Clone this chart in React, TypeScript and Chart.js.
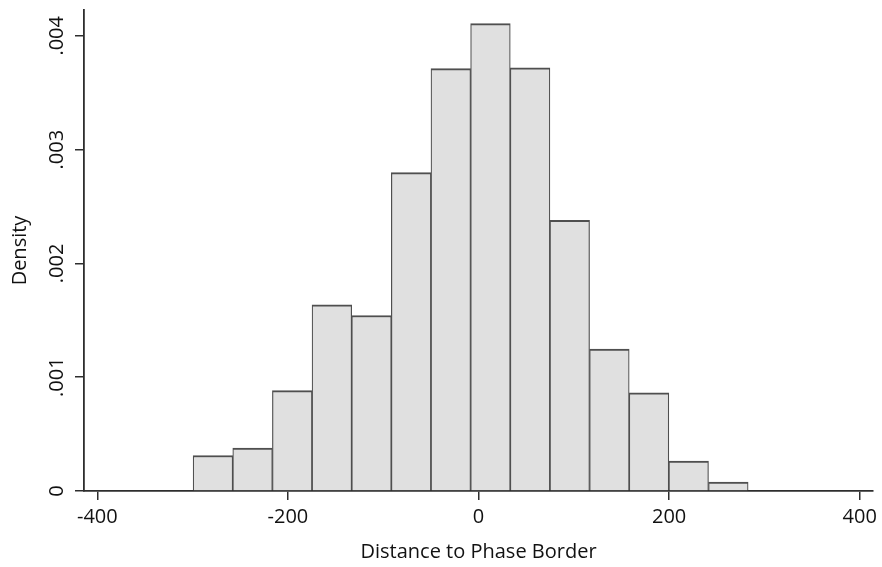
import React, { useEffect, useRef } from "react";
import { Chart, registerables } from "chart.js";

Chart.register(...registerables);

// Histogram bins (centers, uniform width) and density values
const binCenters = [-278.7, -237.1, -195.5, -153.9, -112.3, -70.7, -29.1, 12.5, 54.1, 95.7, 137.3, 178.9, 220.5, 262.1];
const densities = [0.000312, 0.000377, 0.000882, 0.001635, 0.001542, 0.002798, 0.003712, 0.004107, 0.003719, 0.002378, 0.001247, 0.000862, 0.000263, 0.000079];

const xTickValues = [-400, -200, 0, 200, 400];
const xTickLabels = ["-400", "-200", "0", "200", "400"];
const yTickValues = [0, 0.001, 0.002, 0.003, 0.004];
const yTickLabels = ["0", ".001", ".002", ".003", ".004"];

const xTitle = "Distance to Phase Border";
const yTitle = "Density";

const FONT = "'Open Sans', 'DejaVu Sans', sans-serif";
const AXIS = "#2e2e2e";
const TEXT = "#111111";

export default function App() {
  const ref = useRef<HTMLCanvasElement | null>(null);

  useEffect(() => {
    if (!ref.current) return;
    const chart = new Chart(ref.current, {
      type: "bar",
      data: {
        datasets: [
          {
            data: binCenters.map((x, i) => ({ x, y: densities[i] })),
            backgroundColor: "#e0e0e0",
            borderColor: "#4f4f4f",
            borderWidth: { top: 2, left: 1.2, right: 1.2, bottom: 0 },
            borderSkipped: "start",
            barPercentage: 1,
            categoryPercentage: 1,
          },
        ],
      },
      options: {
        animation: false,
        responsive: false,
        maintainAspectRatio: false,
        layout: { padding: { top: 9, right: 7, left: 0, bottom: 0 } },
        plugins: { legend: { display: false }, tooltip: { enabled: false } },
        scales: {
          x: {
            type: "linear",
            offset: false,
            min: -414,
            max: 414,
            afterBuildTicks: (s: any) => {
              s.ticks = xTickValues.map((v) => ({ value: v }));
            },
            afterFit: (s: any) => {
              s.height = 76;
            },
            ticks: {
              callback: (v: any) => xTickLabels[xTickValues.indexOf(Number(v))] ?? "",
              font: { family: FONT, size: 20 },
              color: TEXT,
              padding: 5,
              maxRotation: 0,
              minRotation: 0,
            },
            grid: { display: true, offset: false, drawOnChartArea: false, drawTicks: true, tickLength: 9, color: AXIS, lineWidth: 1.5 },
            border: { display: true, color: AXIS, width: 1.8 },
            title: {
              display: true,
              text: xTitle,
              font: { family: FONT, size: 20 },
              color: TEXT,
              padding: { top: 0, bottom: 3 },
            },
          },
          y: {
            type: "linear",
            min: 0,
            max: 0.004227,
            afterBuildTicks: (s: any) => {
              s.ticks = yTickValues.map((v) => ({ value: v }));
            },
            afterFit: (s: any) => {
              s.width = 84;
            },
            ticks: {
              callback: (v: any) => {
                const i = yTickValues.findIndex((t) => Math.abs(t - Number(v)) < 1e-9);
                return i >= 0 ? yTickLabels[i] : "";
              },
              font: { family: FONT, size: 20 },
              color: TEXT,
              minRotation: 90,
              maxRotation: 90,
              crossAlign: "center",
              padding: -2,
            },
            grid: { display: true, drawOnChartArea: false, drawTicks: true, tickLength: 9, color: AXIS, lineWidth: 1.5 },
            border: { display: true, color: AXIS, width: 1.8 },
            title: {
              display: true,
              text: yTitle,
              font: { family: FONT, size: 20 },
              color: TEXT,
              padding: { top: 8, bottom: 0 },
            },
          },
        },
      },
    });
    return () => chart.destroy();
  }, []);

  return (
    <div style={{ position: "fixed", left: 0, top: 0, width: 882, height: 567, background: "#ffffff" }}>
      <canvas ref={ref} width={882} height={567} style={{ display: "block", width: 882, height: 567 }} />
    </div>
  );
}
